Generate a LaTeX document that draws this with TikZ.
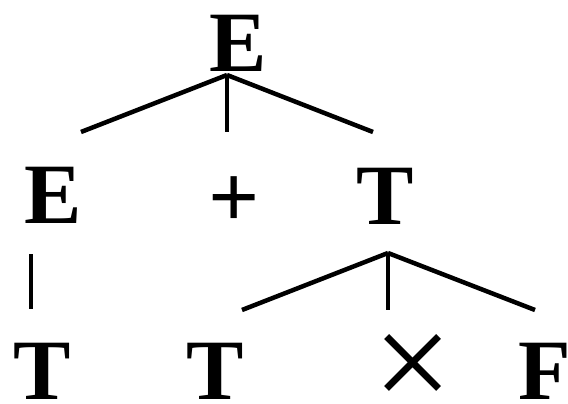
\documentclass[tikz,border=0pt]{standalone}
\usepackage{fontspec}
\setmainfont{Liberation Serif}
\begin{document}
\begin{tikzpicture}[x=1pt,y=-1pt,
  sym/.style={inner sep=0pt, outer sep=0pt, anchor=base, font=\fontsize{86}{86}\selectfont\bfseries},
  op/.style={inner sep=0pt, outer sep=0pt, anchor=center},
  edge/.style={line width=4.5pt, line cap=butt, line join=miter}]
\useasboundingbox (0,0) rectangle (568,404);
% row 1
\node[sym] (E0) at (238,71) {E};
% row 2
\node[sym] (E1) at (53.5,223) {E};
\node[op, font=\fontsize{90}{90}\selectfont\bfseries] (plus) at (234,202.5) {+};
\node[sym] (T1) at (385,224) {T};
% row 3
\node[sym] (T2) at (42,399) {T};
\node[sym] (T3) at (215,399) {T};
\node[op, font=\fontsize{140}{140}\selectfont] (times) at (413,372) {×};
\node[sym, anchor=base west] (F) at (518.6,399) {F};
% tree connectors
\coordinate (a1) at (227,75);
\coordinate (l1) at (81,132);
\coordinate (m1) at (227,132);
\coordinate (r1) at (373,132);
\coordinate (a2) at (388,253);
\coordinate (l2) at (242,310);
\coordinate (m2) at (388,310);
\coordinate (r2) at (535,310);
\coordinate (v1) at (31,254);
\coordinate (v2) at (31,309);
\draw[edge] (a1) -- (l1);
\draw[edge] (a1) -- (m1);
\draw[edge] (a1) -- (r1);
\draw[edge] (a2) -- (l2);
\draw[edge] (a2) -- (m2);
\draw[edge] (a2) -- (r2);
\draw[edge] (v1) -- (v2);
\end{tikzpicture}
\end{document}
